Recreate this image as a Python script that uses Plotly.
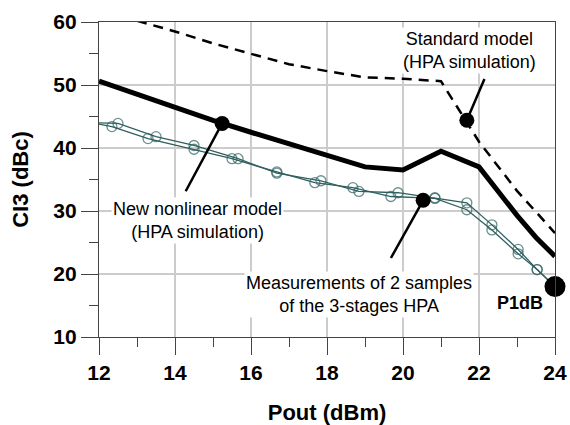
import plotly.graph_objects as go

# Standard model (HPA simulation) - dashed
std_x = [13, 14, 15, 16, 17, 18, 19, 20, 21, 22, 23, 24]
std_y = [60.2, 58.5, 56.6, 54.9, 53.3, 52.2, 51.2, 51.0, 50.6, 41.0, 33.2, 26.5]

# New nonlinear model (HPA simulation) - thick
new_x = [12, 13, 14, 15, 16, 17, 18, 19, 20, 21, 22, 23, 23.5, 24]
new_y = [50.6, 48.5, 46.4, 44.4, 42.5, 40.6, 38.8, 37.0, 36.5, 39.5, 37.0, 29.3, 25.8, 22.8]

# Measurements, sample 1 and sample 2
m1_x = [12, 12.34, 13.29, 14.5, 15.5, 16.68, 17.68, 18.68, 19.68, 20.84, 21.68, 22.34, 23.03, 23.53, 24.0]
m1_y = [43.8, 43.4, 41.5, 39.8, 38.3, 36.2, 34.5, 33.7, 32.3, 32.0, 30.2, 27.0, 23.2, 20.7, 18.0]
m2_x = [12, 12.5, 13.5, 14.5, 15.66, 16.68, 17.84, 18.84, 19.87, 20.84, 21.68, 22.34, 23.03, 23.53, 24.0]
m2_y = [44.0, 43.9, 41.8, 40.4, 38.3, 36.0, 34.8, 33.1, 32.9, 32.1, 31.3, 27.8, 23.9, 20.7, 18.0]

# Callout dots
dot_x = [15.24, 21.68, 20.53]
dot_y = [43.9, 44.4, 31.7]
p1db_x = [24.0]
p1db_y = [18.0]

# Labels
labels = ["Standard model<br>(HPA simulation)",
          "New nonlinear model<br>(HPA simulation)",
          "Measurements of 2 samples<br>of the 3-stages HPA"]
label_x = [21.76, 14.58, 18.84]
label_y = [55.5, 28.5, 16.7]
tail_x = [22.16, 14.26, 19.66]
tail_y = [51.2, 32.9, 22.3]
head_x = [21.68, 15.24, 20.53]
head_y = [44.4, 43.9, 31.7]

teal = "#2f5f5f"
FONT = "Liberation Sans, Arial, sans-serif"
fig = go.Figure()

fig.add_trace(go.Scatter(x=std_x, y=std_y, mode="lines",
                         line=dict(color="black", width=2.5, dash="10px,7px")))
fig.add_trace(go.Scatter(x=new_x, y=new_y, mode="lines",
                         line=dict(color="black", width=5)))
for mx, my in [(m1_x, m1_y), (m2_x, m2_y)]:
    sizes = [0] + [10] * (len(mx) - 2) + [0]
    fig.add_trace(go.Scatter(x=mx, y=my, mode="lines+markers",
                             line=dict(color=teal, width=1.3),
                             marker=dict(symbol="circle-open", size=sizes,
                                         color=teal, line=dict(width=1.3, color=teal))))

for i in range(len(labels)):
    fig.add_annotation(x=head_x[i], y=head_y[i], ax=tail_x[i], ay=tail_y[i],
                       axref="x", ayref="y", xref="x", yref="y", text="",
                       showarrow=True, arrowhead=0, arrowwidth=2.5, arrowcolor="black")

fig.add_trace(go.Scatter(x=dot_x, y=dot_y, mode="markers",
                         marker=dict(color="black", size=15)))
fig.add_trace(go.Scatter(x=p1db_x, y=p1db_y, mode="markers", cliponaxis=False,
                         marker=dict(color="black", size=21)))

for i in range(len(labels)):
    fig.add_annotation(x=label_x[i], y=label_y[i], xref="x", yref="y", text=labels[i],
                       showarrow=False, bgcolor="white", borderpad=1,
                       font=dict(size=18, color="black", family=FONT))
fig.add_annotation(x=23.08, y=15.4, xref="x", yref="y", text="<b>P1dB</b>",
                   showarrow=False,
                   font=dict(size=18, color="black", family=FONT))

axis_common = dict(showline=True, linecolor="#444", linewidth=1.2, mirror=True,
                   showgrid=True, gridcolor="#cccccc", gridwidth=1.5,
                   ticks="outside", ticklen=17, tickcolor="#444", tickwidth=1.2,
                   tickfont=dict(size=21, color="black", family=FONT, weight="bold"),
                   zeroline=False, automargin=False)

fig.update_xaxes(range=[12, 24], tickvals=[12, 14, 16, 18, 20, 22, 24],
                 minor=dict(dtick=1, tick0=12, ticks="outside", ticklen=9, tickcolor="#444", showgrid=False),
                 title=dict(text="<b>Pout (dBm)</b>", standoff=24,
                            font=dict(size=22, color="black", family=FONT)),
                 **axis_common)
fig.update_yaxes(range=[10, 60], tickvals=[10, 20, 30, 40, 50, 60],
                 minor=dict(dtick=5, tick0=10, ticks="outside", ticklen=9, tickcolor="#444", showgrid=False),
                 title=dict(text="<b>CI3 (dBc)</b>", standoff=18,
                            font=dict(size=22, color="black", family=FONT)),
                 **axis_common)

fig.update_layout(width=570, height=425, showlegend=False,
                  margin=dict(l=99, r=15, t=22, b=88),
                  plot_bgcolor="white", paper_bgcolor="white")

fig.write_html("out.html")
